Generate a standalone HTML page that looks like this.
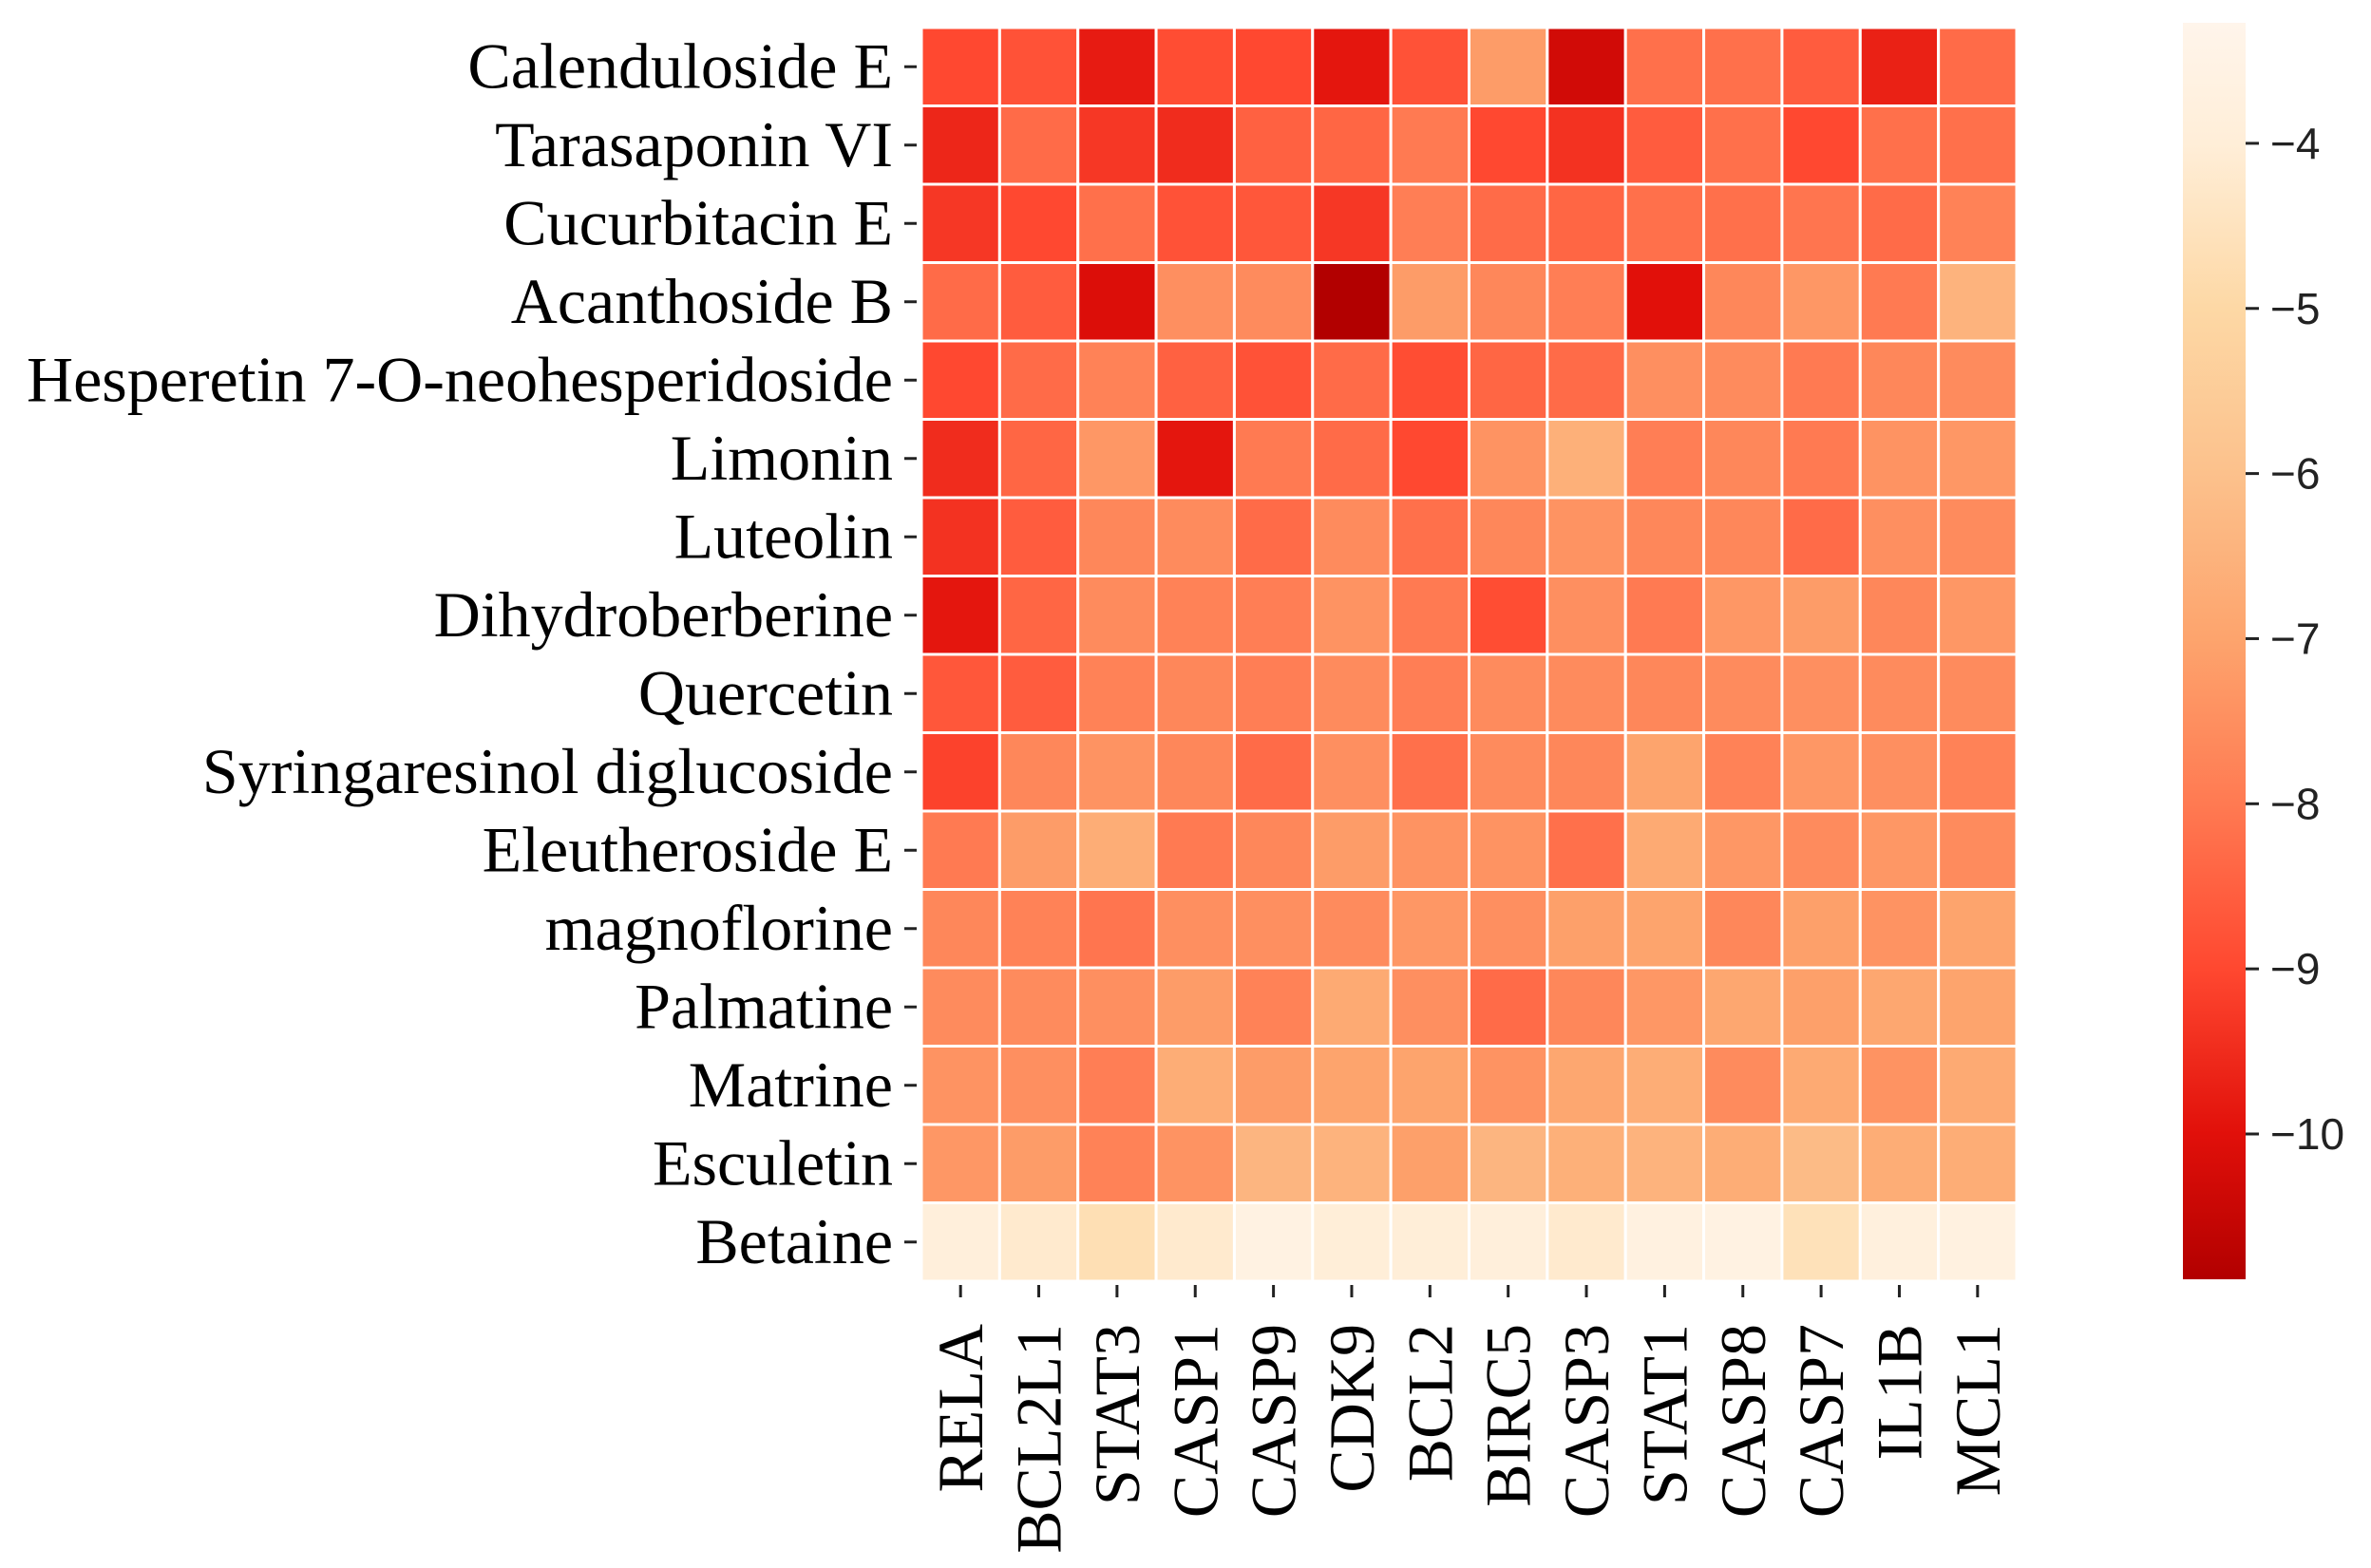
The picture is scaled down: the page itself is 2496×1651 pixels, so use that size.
<!DOCTYPE html>
<html><head><meta charset="utf-8"><style>
html,body{margin:0;padding:0;background:#fff;}
svg{display:block;}
</style></head><body>
<svg id="chart" width="2496" height="1651" viewBox="0 0 2496 1651" xmlns="http://www.w3.org/2000/svg">
<defs>
<linearGradient id="cbgrad" x1="0" y1="1" x2="0" y2="0"></linearGradient>
</defs>
<g id="cells"></g>
<g id="ylabels"></g>
<g id="xlabels"></g>
<g id="cbar"></g>
</svg>
<script>
const compounds = ["Calenduloside E","Tarasaponin VI","Cucurbitacin E","Acanthoside B","Hesperetin 7-O-neohesperidoside","Limonin","Luteolin","Dihydroberberine","Quercetin","Syringaresinol diglucoside","Eleutheroside E","magnoflorine","Palmatine","Matrine","Esculetin","Betaine"];
const genes = ["RELA","BCL2L1","STAT3","CASP1","CASP9","CDK9","BCL2","BIRC5","CASP3","STAT1","CASP8","CASP7","IL1B","MCL1"];
const values = [
[-9.0,-8.8,-9.8,-8.9,-9.0,-9.9,-8.8,-7.2,-10.3,-8.2,-8.2,-8.6,-9.7,-8.3],
[-9.6,-8.3,-9.3,-9.5,-8.5,-8.4,-8.0,-9.0,-9.4,-8.6,-8.2,-9.0,-8.2,-8.2],
[-9.3,-9.0,-8.2,-8.8,-8.7,-9.3,-7.9,-8.3,-8.4,-8.2,-8.2,-8.1,-8.3,-7.8],
[-8.3,-8.6,-10.1,-7.5,-7.6,-10.9,-7.2,-7.7,-7.9,-10.0,-7.7,-7.3,-8.0,-6.5],
[-9.0,-8.3,-7.8,-8.5,-8.8,-8.3,-8.9,-8.4,-8.3,-7.5,-7.6,-8.0,-7.7,-7.6],
[-9.5,-8.4,-7.3,-9.9,-8.0,-8.3,-9.0,-7.4,-6.6,-7.9,-7.7,-8.0,-7.4,-7.3],
[-9.4,-8.6,-7.7,-7.6,-8.3,-7.6,-8.2,-7.7,-7.4,-7.7,-7.7,-8.3,-7.5,-7.6],
[-9.9,-8.4,-7.6,-7.8,-7.9,-7.4,-8.0,-8.9,-7.5,-8.0,-7.3,-7.2,-7.7,-7.3],
[-8.7,-8.6,-7.8,-7.7,-7.9,-7.6,-7.9,-7.6,-7.6,-7.7,-7.6,-7.5,-7.6,-7.6],
[-9.1,-7.7,-7.4,-7.7,-8.3,-7.5,-8.2,-7.6,-7.7,-7.0,-7.8,-7.3,-7.5,-7.8],
[-8.0,-7.2,-6.7,-8.0,-7.7,-7.2,-7.4,-7.4,-8.2,-6.8,-7.3,-7.6,-7.3,-7.6],
[-7.7,-7.8,-8.1,-7.5,-7.5,-7.6,-7.3,-7.5,-7.1,-7.0,-7.7,-7.1,-7.4,-7.0],
[-7.6,-7.6,-7.5,-7.2,-7.8,-6.8,-7.5,-8.3,-7.7,-7.3,-6.9,-7.1,-6.9,-7.0],
[-7.4,-7.5,-7.9,-6.7,-7.2,-7.0,-7.0,-7.4,-6.9,-6.7,-7.6,-6.8,-7.4,-6.8],
[-7.3,-7.2,-7.8,-7.4,-6.4,-6.5,-7.1,-6.4,-6.6,-6.5,-6.7,-6.2,-6.7,-6.7],
[-3.9,-4.2,-4.7,-4.2,-3.6,-4.0,-4.0,-3.9,-4.2,-3.7,-3.6,-4.6,-3.8,-3.7]
];
const cbTicks = [-4,-5,-6,-7,-8,-9,-10];
const vmin = -10.88, vmax = -3.27;

const NS = "http://www.w3.org/2000/svg";
const plot = {x0:970, x1:2123, y0:29, y1:1349};
const cb = {x0:2298, x1:2364, y0:24, y1:1347};
const stops = [[-3.27,[255,245,235]],[-4,[255,238,216]],[-5,[253,216,165]],[-6,[252,193,140]],[-7,[253,164,109]],[-8,[255,122,82]],[-9,[255,72,48]],[-10,[225,16,10]],[-10.88,[178,0,0]]];
function color(v){
  if(v>=stops[0][0]) return rgb(stops[0][1]);
  for(let i=1;i<stops.length;i++){
    if(v>=stops[i][0]){
      const a=stops[i-1],b=stops[i];const t=(a[0]-v)/(a[0]-b[0]);
      return rgb(a[1].map((c,k)=>c+(b[1][k]-c)*t));
    }
  }
  return rgb(stops[stops.length-1][1]);
}
function rgb(c){return "rgb("+c.map(Math.round).join(",")+")";}
const cw=(plot.x1-plot.x0)/genes.length, ch=(plot.y1-plot.y0)/compounds.length;
const xScale=i=>plot.x0+i*cw, yScale=j=>plot.y0+j*ch;
const cbY=v=>cb.y0+(vmax-v)/(vmax-vmin)*(cb.y1-cb.y0);

const gc=document.getElementById("cells");
values.forEach((row,j)=>row.forEach((v,i)=>{
  const r=document.createElementNS(NS,"rect");
  r.setAttribute("x",xScale(i));r.setAttribute("y",yScale(j));
  r.setAttribute("width",cw);r.setAttribute("height",ch);
  r.setAttribute("fill",color(v));r.setAttribute("stroke","#fff");r.setAttribute("stroke-width","3");
  
  
  gc.appendChild(r);
}));

const gy=document.getElementById("ylabels");
compounds.forEach((n,j)=>{
  const cy=yScale(j)+ch/2;
  const t=document.createElementNS(NS,"line");
  t.setAttribute("x1",952);t.setAttribute("x2",965);t.setAttribute("y1",cy);t.setAttribute("y2",cy);
  t.setAttribute("stroke","#222");t.setAttribute("stroke-width","3");
  
  
  gy.appendChild(t);
  const tx=document.createElementNS(NS,"text");
  tx.setAttribute("x",940);tx.setAttribute("y",cy+22);tx.setAttribute("text-anchor","end");
  tx.setAttribute("font-family","'Liberation Serif', serif");tx.setAttribute("font-size","68");
  tx.textContent=n;
  
  
  gy.appendChild(tx);
});

const gx=document.getElementById("xlabels");
genes.forEach((n,i)=>{
  const cx=xScale(i)+cw/2;
  const t=document.createElementNS(NS,"line");
  t.setAttribute("x1",cx);t.setAttribute("x2",cx);t.setAttribute("y1",1353);t.setAttribute("y2",1366);
  t.setAttribute("stroke","#222");t.setAttribute("stroke-width","3");
  
  
  gx.appendChild(t);
  const tx=document.createElementNS(NS,"text");
  tx.setAttribute("transform","translate("+(cx+23)+",1394) rotate(-90)");
  tx.setAttribute("text-anchor","end");
  tx.setAttribute("font-family","'Liberation Serif', serif");tx.setAttribute("font-size","68");
  tx.textContent=n;
  
  
  gx.appendChild(tx);
});

const grad=document.getElementById("cbgrad");
stops.slice().reverse().forEach(s=>{
  const st=document.createElementNS(NS,"stop");
  st.setAttribute("offset",((s[0]-vmin)/(vmax-vmin)));
  st.setAttribute("stop-color",rgb(s[1]));
  grad.appendChild(st);
});
const gcb=document.getElementById("cbar");
const bar=document.createElementNS(NS,"rect");
bar.setAttribute("x",cb.x0);bar.setAttribute("y",cb.y0);bar.setAttribute("width",cb.x1-cb.x0);bar.setAttribute("height",cb.y1-cb.y0);
bar.setAttribute("fill","url(#cbgrad)");


gcb.appendChild(bar);
cbTicks.forEach(v=>{
  const y=cbY(v);
  const t=document.createElementNS(NS,"line");
  t.setAttribute("x1",cb.x1);t.setAttribute("x2",cb.x1+14);t.setAttribute("y1",y);t.setAttribute("y2",y);
  t.setAttribute("stroke","#222");t.setAttribute("stroke-width","3");
  
  
  gcb.appendChild(t);
  const tx=document.createElementNS(NS,"text");
  tx.setAttribute("x",2390);tx.setAttribute("y",y+16);
  tx.setAttribute("font-family","'Liberation Sans', sans-serif");tx.setAttribute("font-size","46");
  tx.setAttribute("fill","#222");
  tx.textContent="\u2212"+Math.abs(v);
  
  
  gcb.appendChild(tx);
});
</script>
</body></html>
